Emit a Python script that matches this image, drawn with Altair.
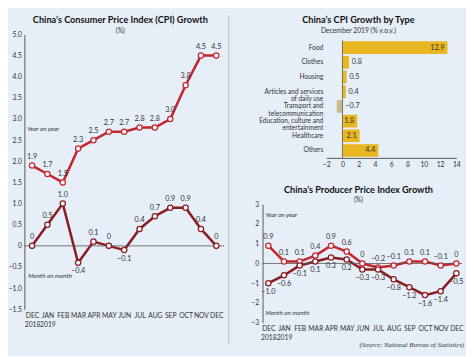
import altair as alt
import pandas as pd

# ---------------- data ----------------
months = ["DEC 2018", "JAN 2019", "FEB", "MAR", "APR", "MAY", "JUN",
          "JUL", "AUG", "SEP", "OCT", "NOV", "DEC"]
cpi_yoy = [1.9, 1.7, 1.5, 2.3, 2.5, 2.7, 2.7, 2.8, 2.8, 3.0, 3.8, 4.5, 4.5]
cpi_mom = [0, 0.5, 1.0, -0.4, 0.1, 0, -0.1, 0.4, 0.7, 0.9, 0.9, 0.4, 0]

ppi_upper = [0.9, 0.1, 0.1, 0.4, 0.9, 0.6, 0, -0.2, -0.1, 0.1, 0.1, -0.1, 0]
ppi_lower = [-1.0, -0.6, -0.1, 0.1, 0.3, 0.2, -0.3, -0.3, -0.8, -1.2, -1.6, -1.4, -0.5]

types = ["Food", "Clothes", "Housing", "Articles and services\nof daily use",
         "Transport and\ntelecommunication", "Education, culture and\nentertainment",
         "Healthcare", "Others"]
type_values = [12.9, 0.8, 0.5, 0.4, -0.7, 1.8, 2.1, 4.4]

series_names = ["Year on year", "Month on month"]
cpi_y_ticks = [-1.5, -1.0, -0.5, 0, 0.5, 1.0, 1.5, 2.0, 2.5, 3.0, 3.5, 4.0, 4.5, 5.0]
ppi_y_ticks = [-3, -2, -1, 0, 1, 2, 3]
bar_x_ticks = [-2, 0, 2, 4, 6, 8, 10, 12, 14]

titles = ["China\u2019s Consumer Price Index (CPI) Growth",
          "China\u2019s CPI Growth by Type",
          "China\u2019s Producer Price Index Growth"]
subtitles = ["(%)", "December 2019 (% y.o.y.)", "(%)"]
source = ["(Source: National Bureau of Statistics)"]

# ---------------- style ----------------
BG = "#e6eef8"
RED = "#c4262e"
DARK = "#8a1c22"
GOLD = "#e8b620"
KHAKI = "#c6ba8e"
TXT = "#333333"
FONT = "Lato"

cpi_df = pd.DataFrame({
    "month": months * 2,
    "value": cpi_yoy + cpi_mom,
    "series": [series_names[0]] * 13 + [series_names[1]] * 13,
})
ppi_df = pd.DataFrame({
    "month": months * 2,
    "value": ppi_upper + ppi_lower,
    "series": ["upper"] * 13 + ["lower"] * 13,
})
bar_df = pd.DataFrame({"type": types, "v": type_values})

lab_expr = "datum.value == 0 ? '0' : format(datum.value, '.1f')"


def title_params(i, offset, dx):
    return alt.TitleParams(
        titles[i], subtitle=subtitles[i], font=FONT, fontSize=9.5, fontWeight="bold",
        color="#111111", subtitleFont=FONT, subtitleFontSize=7, subtitleColor=TXT,
        subtitlePadding=2, anchor="middle", offset=offset, dx=dx)


def note(text, x, y):
    return alt.Chart(pd.DataFrame({"t": [text]})).mark_text(
        font=FONT, fontStyle="italic", fontSize=6.5, color=TXT, align="left"
    ).encode(x=alt.value(x), y=alt.value(y), text="t:N")


def ax(**kw):
    base = dict(ticks=False, grid=False, labelFontSize=7, labelColor=TXT, labelFont=FONT,
                labelOverlap=False, title=None)
    base.update(kw)
    return alt.Axis(**base)


# ---------------- left: CPI ----------------
WL, HL = 207, 285
xL = alt.X("month:N", sort=months, scale=alt.Scale(type="point", padding=0.5),
           axis=ax(labelExpr="split(datum.value, ' ')", domain=False, labelAngle=0,
                   labelPadding=3, labelLineHeight=9))
yL_scale = alt.Scale(domain=[-1.5, 5])
yL_axis = ax(values=cpi_y_ticks, labelExpr=lab_expr, domainColor="#555",
             domainWidth=1, labelPadding=3, labelFlush=False)
yL = alt.Y("value:Q", scale=yL_scale, axis=yL_axis)
colL = alt.Color("series:N", scale=alt.Scale(domain=series_names, range=[RED, DARK]), legend=None)

baseL = alt.Chart(cpi_df).encode(x=xL, y=yL)
linesL = baseL.mark_line(strokeWidth=2.6).encode(color=colL, detail="series:N")
zeroL = alt.Chart(pd.DataFrame({"value": [0]})).mark_rule(color="#555", strokeWidth=0.8).encode(
    y=alt.Y("value:Q", scale=yL_scale, axis=yL_axis))
ptsL = baseL.mark_point(filled=False, fill="white", opacity=1, size=30, strokeWidth=1.3).encode(color=colL)
labsL = baseL.transform_calculate(lab=lab_expr)
aboveL = labsL.transform_filter("datum.value >= 0").mark_text(
    dy=-9, fontSize=7.5, color=TXT, font=FONT).encode(text="lab:N")
belowL = labsL.transform_filter("datum.value < 0").mark_text(
    dy=9, fontSize=7.5, color=TXT, font=FONT).encode(text="lab:N")

left = alt.layer(
    linesL, zeroL, ptsL, aboveL, belowL,
    note(series_names[0], 3, 98), note(series_names[1], 4, 251)
).properties(width=WL, height=HL, title=title_params(0, -3, -4))

# ---------------- divider (own narrow panel) ----------------
divider = alt.Chart(pd.DataFrame({"d": [0]})).mark_rule(color="#aeb9c6", strokeWidth=1).encode(
    x=alt.value(-5), y=alt.value(-20), y2=alt.value(321)
).properties(width=0, height=HL)

# ---------------- right top: bars ----------------
WR, HT = 207, 128
xB_scale = alt.Scale(domain=[-2, 14], range=[66, 201])
xB_axis = ax(values=bar_x_ticks, domainColor="#555", labelPadding=3, labelFlush=False)
xB = alt.X("v:Q", scale=xB_scale, axis=xB_axis)
yB = alt.Y("type:N", sort=types, scale=alt.Scale(range=[6, 128], paddingInner=0.14, paddingOuter=0.07),
           axis=None)
baseB = alt.Chart(bar_df).encode(y=yB)
bars = baseB.mark_bar().encode(
    x=xB,
    color=alt.condition("datum.v < 0", alt.value(KHAKI), alt.value(GOLD)))
zeroB = alt.Chart(pd.DataFrame({"v": [0]})).mark_rule(color="#555", strokeWidth=0.8).encode(
    x=alt.X("v:Q", scale=xB_scale, axis=xB_axis), y=alt.value(6), y2=alt.value(128))
inB = baseB.transform_filter("datum.v >= 1.5").mark_text(
    align="right", dx=-3, fontSize=7.5, color=TXT, font=FONT).encode(
    x=alt.X("v:Q", scale=xB_scale, axis=xB_axis), text=alt.Text("v:Q", format=".1f"))
outB = baseB.transform_filter("datum.v < 1.5").transform_calculate(lx="max(datum.v, 0)").mark_text(
    align="left", dx=3, fontSize=7.5, color=TXT, font=FONT).encode(
    x=alt.X("lx:Q", scale=xB_scale, axis=xB_axis), text=alt.Text("v:Q", format=".1f"))
catB = baseB.mark_text(align="right", baseline="middle", lineBreak="\n", lineHeight=7.5,
                       fontSize=6.8, color=TXT, font=FONT).encode(x=alt.value(63), text="type:N")

top = alt.layer(bars, zeroB, inB, outB, catB).properties(
    width=WR, height=HT, title=title_params(1, 1, -4))

# ---------------- right bottom: PPI ----------------
HB = 123
xP = alt.X("month:N", sort=months, scale=alt.Scale(type="point", padding=0.37),
           axis=ax(labelExpr="split(datum.value, ' ')", domain=False, labelAngle=0,
                   labelPadding=2, labelLineHeight=9))
yP_scale = alt.Scale(domain=[-3, 3])
yP_axis = ax(values=ppi_y_ticks, format="d", domainColor="#555", labelPadding=4, labelFlush=False)
yP = alt.Y("value:Q", scale=yP_scale, axis=yP_axis)
colP = alt.Color("series:N", scale=alt.Scale(domain=["upper", "lower"], range=[RED, DARK]), legend=None)
baseP = alt.Chart(ppi_df).encode(x=xP, y=yP)
zeroP = alt.Chart(pd.DataFrame({"value": [0]})).mark_rule(color="#555", strokeWidth=0.8).encode(
    y=alt.Y("value:Q", scale=yP_scale, axis=yP_axis))
linesP = baseP.mark_line(strokeWidth=2.6).encode(color=colP, detail="series:N")
ptsP = baseP.mark_point(filled=False, fill="white", opacity=1, size=30, strokeWidth=1.3).encode(color=colP)
labsP = baseP.transform_calculate(lab=lab_expr)
aboveP = labsP.transform_filter("datum.series == 'upper'").mark_text(
    dy=-9, fontSize=7.5, color=TXT, font=FONT).encode(text="lab:N")
belowP = labsP.transform_filter("datum.series == 'lower'").mark_text(
    dy=9, fontSize=7.5, color=TXT, font=FONT).encode(text="lab:N")
src = alt.Chart(pd.DataFrame({"t": source})).mark_text(
    font="Liberation Serif", fontStyle="italic", fontSize=7, color=TXT, align="right"
).encode(x=alt.value(209), y=alt.value(146), text="t:N")

bottom = alt.layer(
    linesP, zeroP, ptsP, aboveP, belowP, src,
    note(series_names[0], 3, 11), note(series_names[1], 3, 113)
).properties(width=WR, height=HB, title=title_params(2, -3, -4))

right = alt.vconcat(top, bottom, spacing=48, bounds="flush")
chart = alt.hconcat(left, divider, right, spacing=10, bounds="flush").properties(
    background=BG, padding={"left": 0, "top": 0, "right": 2, "bottom": 2}
).configure_view(stroke=None).configure_axis(labelOverlap=False)

chart.save("out.html", embed_options={"renderer": "svg", "actions": False})
